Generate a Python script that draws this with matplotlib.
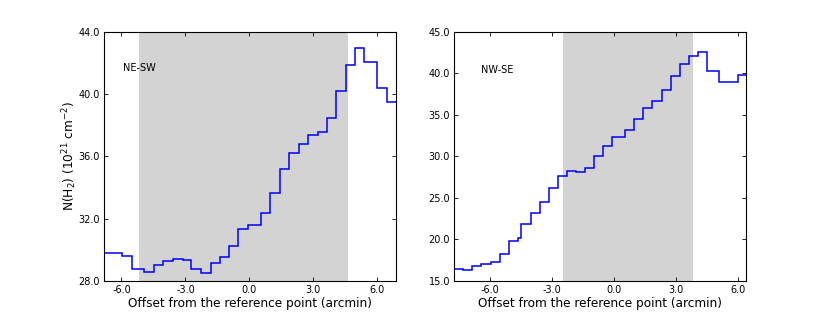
import numpy as np
import matplotlib
matplotlib.use("Agg")
import matplotlib.pyplot as plt
from matplotlib.ticker import FormatStrFormatter

# NE-SW cut: bin edges (arcmin) and column density (1e21 cm^-2)
ne_edges = [-6.9, -6.39, -5.95, -5.51, -4.92, -4.46, -4.03, -3.59, -3.13, -2.72,
            -2.25, -1.82, -1.38, -0.95, -0.52, -0.08, 0.53, 0.98, 1.42, 1.87,
            2.31, 2.75, 3.20, 3.63, 4.07, 4.52, 4.96, 5.39, 5.98, 6.43, 6.9]
ne_nh2 = [29.78, 29.82, 29.61, 28.75, 28.60, 29.01, 29.27, 29.39, 29.35, 28.75,
          28.53, 29.18, 29.52, 30.22, 31.36, 31.59, 32.39, 33.67, 35.19, 36.19,
          36.79, 37.39, 37.54, 38.46, 40.19, 41.84, 42.95, 42.03, 40.39, 39.49]
ne_shade = (-5.17, 4.60)

# NW-SE cut
nw_edges = [-7.8, -7.30, -6.87, -6.43, -5.97, -5.53, -5.09, -4.64, -4.50, -4.04,
            -3.61, -3.17, -2.72, -2.29, -1.84, -1.40, -0.97, -0.53, -0.11, 0.52,
            0.96, 1.40, 1.84, 2.29, 2.73, 3.18, 3.61, 4.03, 4.48, 5.08, 5.97, 6.4]
nw_nh2 = [16.48, 16.36, 16.76, 17.05, 17.33, 18.21, 19.86, 20.14, 21.87, 23.23,
          24.55, 26.16, 27.69, 28.25, 28.17, 28.65, 30.01, 31.22, 32.30, 33.19,
          34.55, 35.80, 36.69, 38.01, 39.70, 41.10, 42.06, 42.51, 40.22, 38.89,
          39.77]
nw_shade = (-2.48, 3.82)

fig = plt.figure(figsize=(8.3, 3.14), dpi=100)
ax1 = fig.add_axes([0.1257, 0.1051, 0.3509, 0.7939])
ax2 = fig.add_axes([0.5473, 0.1051, 0.3511, 0.7939])

panels = [
    (ax1, ne_edges, ne_nh2, ne_shade, "NE-SW", (-6.80, 6.85), (28, 44),
     [28, 32, 36, 40, 44], (-5.94, 41.65)),
    (ax2, nw_edges, nw_nh2, nw_shade, "NW-SE", (-7.74, 6.36), (15, 45),
     [15, 20, 25, 30, 35, 40, 45], (-6.46, 40.37)),
]

for ax, edges, vals, shade, name, xlim, ylim, yticks, txt in panels:
    ax.axvspan(shade[0], shade[1], color="lightgrey", lw=0, zorder=0)
    ax.stairs(vals, edges, baseline=None, color="b", lw=1.1)
    ax.text(txt[0], txt[1], name, fontsize=7, va="center", ha="left")
    ax.set_xlim(xlim)
    ax.set_ylim(ylim)
    ax.set_xticks([-6, -3, 0, 3, 6])
    ax.set_yticks(yticks)
    ax.xaxis.set_major_formatter(FormatStrFormatter("%.1f"))
    ax.yaxis.set_major_formatter(FormatStrFormatter("%.1f"))
    ax.tick_params(direction="in", top=True, right=True, length=3,
                   width=0.6, labelsize=7, pad=3)
    ax.set_xlabel("Offset from the reference point (arcmin)", fontsize=8.7,
                  labelpad=1)

ax1.set_ylabel(r"N(H$_2$) (10$^{21}$ cm$^{-2}$)", fontsize=8.7, labelpad=0)

fig.savefig("out.png", dpi=100)
